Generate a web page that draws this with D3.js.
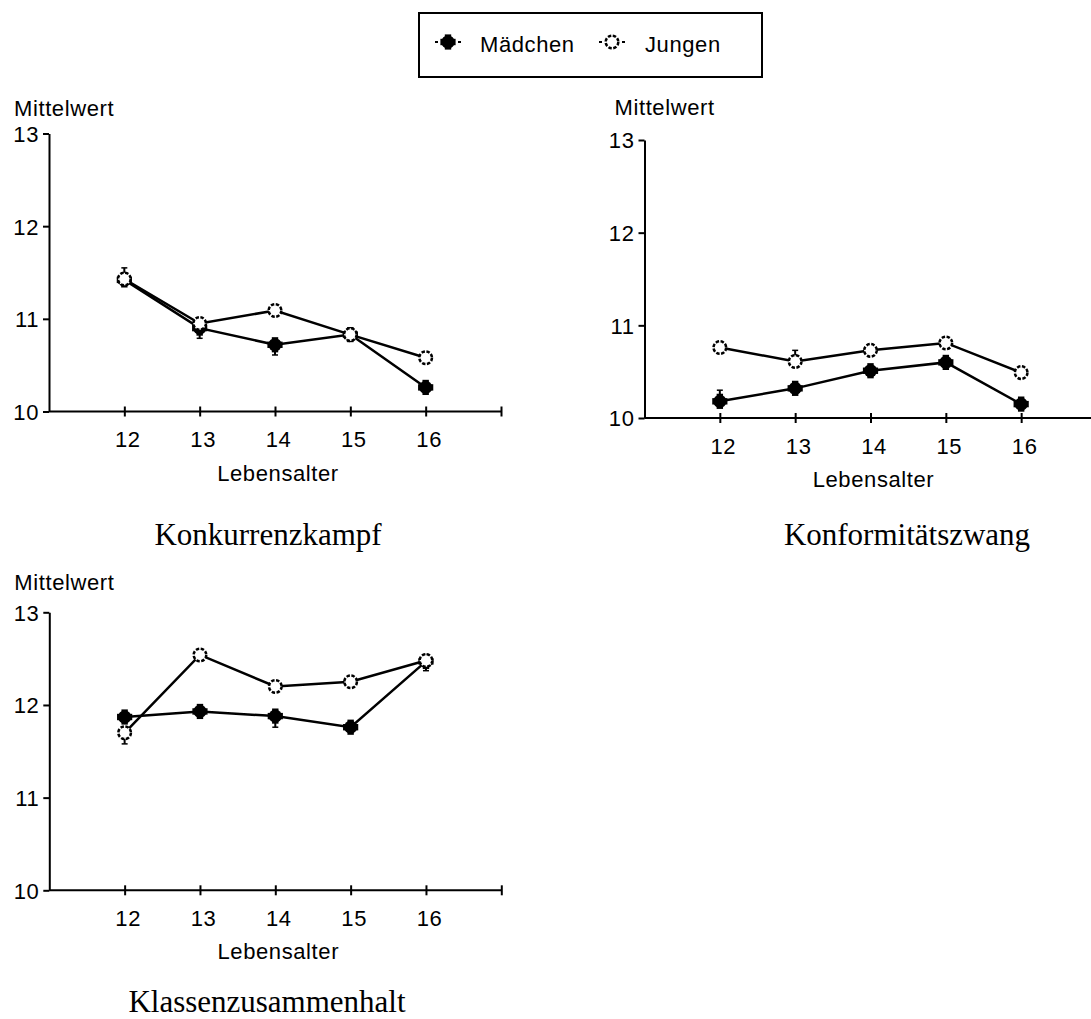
<!DOCTYPE html>
<html>
<head>
<meta charset="utf-8">
<script src="https://cdn.jsdelivr.net/npm/d3@7"></script>
<style>
  html, body { margin: 0; padding: 0; background: #fff; }
  svg { display: block; }
  .sans { font-family: "Liberation Sans", Arial, sans-serif; font-size: 22px; letter-spacing: 0.6px; fill: #000; }
  .serif { font-family: "Liberation Serif", "Times New Roman", serif; font-size: 31px; fill: #000; }
</style>
</head>
<body>
<div id="chart"></div>
<script>
const ages = [12, 13, 14, 15, 16];
const xTicks = [12, 13, 14, 15, 16, 17];
const yTicks = [10, 11, 12, 13];
const seriesNames = ["Mädchen", "Jungen"];
const panelTitles = ["Konkurrenzkampf", "Konformitätszwang", "Klassenzusammenhalt"];

const konkurrenzMaedchen = [11.42, 10.90, 10.72, 10.83, 10.26];
const konkurrenzJungen = [11.43, 10.95, 11.09, 10.83, 10.58];
const konformMaedchen = [10.18, 10.32, 10.51, 10.60, 10.15];
const konformJungen = [10.76, 10.61, 10.73, 10.81, 10.49];
const klassenMaedchen = [11.87, 11.93, 11.88, 11.76, 12.47];
const klassenJungen = [11.70, 12.54, 12.20, 12.25, 12.48];

// one-sided error bars (+ up, - down), only the visible ones
const konkurrenzMaedchenErr = [0, -0.11, -0.11, 0, 0];
const konkurrenzJungenErr = [0.12, 0, 0, 0, 0];
const konformMaedchenErr = [0.12, 0, 0, 0, 0];
const konformJungenErr = [0, 0.12, 0, 0, 0];
const klassenMaedchenErr = [0, 0, -0.12, 0, 0];
const klassenJungenErr = [-0.12, 0, 0, 0, -0.11];

const width = 1091, height = 1019;
const plotW = 452, plotH = 278;

const panels = [
  { title: panelTitles[0], left: 49, top: 133.5, titleX: 268, titleY: 545, labelX: -35, labelY: -18,
    girls: konkurrenzMaedchen, boys: konkurrenzJungen, girlsErr: konkurrenzMaedchenErr, boysErr: konkurrenzJungenErr },
  { title: panelTitles[1], left: 644.5, top: 140, titleX: 907, titleY: 545, labelX: -30, labelY: -25,
    girls: konformMaedchen, boys: konformJungen, girlsErr: konformMaedchenErr, boysErr: konformJungenErr },
  { title: panelTitles[2], left: 49.3, top: 612.3, titleX: 267, titleY: 1012, labelX: -35, labelY: -22,
    girls: klassenMaedchen, boys: klassenJungen, girlsErr: klassenMaedchenErr, boysErr: klassenJungenErr }
];

const svg = d3.select("#chart").append("svg")
  .attr("width", width)
  .attr("height", height);

const x = d3.scaleLinear().domain([11, 17]).range([0, plotW]);
const y = d3.scaleLinear().domain([10, 13]).range([plotH, 0]);

// filled marker: round blob with short cross arms
const drawFilled = (g, cx, cy) => {
  const m = g.append("g").attr("transform", `translate(${cx},${cy})`);
  m.append("circle").attr("r", 6.6).attr("fill", "#000");
  m.append("rect").attr("x", -7.6).attr("y", -3.2).attr("width", 15.2).attr("height", 6.4).attr("fill", "#000");
  m.append("rect").attr("x", -3.2).attr("y", -7.6).attr("width", 6.4).attr("height", 15.2).attr("fill", "#000");
};

const drawOpen = (g, cx, cy) => {
  g.append("circle")
    .attr("cx", cx).attr("cy", cy).attr("r", 6.3)
    .attr("fill", "#fff")
    .attr("stroke", "#000")
    .attr("stroke-width", 2.5)
    .attr("stroke-dasharray", "3.4,1.55");
};

const line = d3.line().x((d, i) => x(ages[i])).y(d => y(d));

panels.forEach(p => {
  const g = svg.append("g").attr("transform", `translate(${p.left},${p.top})`);

  // y axis
  const yAxis = g.append("g")
    .call(d3.axisLeft(y).tickValues(yTicks).tickSize(6).tickSizeOuter(0).tickPadding(4).tickFormat(d3.format("d")));
  yAxis.attr("font-size", null).attr("font-family", null);
  yAxis.select(".domain").attr("stroke-width", 2);
  yAxis.selectAll(".tick line").attr("stroke-width", 2);
  yAxis.selectAll(".tick text").attr("class", "sans").attr("dy", "0.36em");

  // x axis
  const xAxis = g.append("g")
    .attr("transform", `translate(0,${plotH})`)
    .call(d3.axisBottom(x).tickValues(xTicks).tickSizeOuter(0).tickSize(5).tickPadding(15)
      .tickFormat(d => d <= 16 ? d : ""));
  xAxis.attr("font-size", null).attr("font-family", null);
  xAxis.select(".domain").attr("stroke-width", 2).attr("d", `M0,0H${plotW}`);
  xAxis.selectAll(".tick line").attr("y1", -5).attr("y2", 5).attr("stroke-width", 2);
  xAxis.selectAll(".tick text").attr("class", "sans").attr("dx", 3);

  // axis labels
  g.append("text").attr("class", "sans")
    .attr("x", p.labelX).attr("y", p.labelY)
    .text("Mittelwert");
  g.append("text").attr("class", "sans")
    .attr("x", x(14) + 3).attr("y", plotH + 69)
    .attr("text-anchor", "middle")
    .text("Lebensalter");

  // lines
  [p.girls, p.boys].forEach(vals => {
    g.append("path")
      .attr("d", line(vals))
      .attr("fill", "none")
      .attr("stroke", "#000")
      .attr("stroke-width", 2.5);
  });

  // error bars
  [[p.girls, p.girlsErr], [p.boys, p.boysErr]].forEach(([vals, errs]) => {
    vals.forEach((v, i) => {
      if (!errs[i]) return;
      const cx = x(ages[i]);
      const y0 = y(v), y1 = y(v + errs[i]);
      g.append("line").attr("x1", cx).attr("x2", cx).attr("y1", y0).attr("y2", y1)
        .attr("stroke", "#000").attr("stroke-width", 2);
      g.append("line").attr("x1", cx - 3).attr("x2", cx + 3).attr("y1", y1).attr("y2", y1)
        .attr("stroke", "#000").attr("stroke-width", 1.5);
    });
  });

  // markers
  p.girls.forEach((v, i) => drawFilled(g, x(ages[i]), y(v)));
  p.boys.forEach((v, i) => drawOpen(g, x(ages[i]), y(v)));

  // panel title
  svg.append("text").attr("class", "serif")
    .attr("x", p.titleX).attr("y", p.titleY)
    .attr("text-anchor", "middle")
    .text(p.title);
});

// legend
const legend = svg.append("g");
legend.append("rect")
  .attr("x", 419).attr("y", 13)
  .attr("width", 343).attr("height", 64)
  .attr("fill", "#fff")
  .attr("stroke", "#000")
  .attr("stroke-width", 2);

const legendItems = [
  { name: seriesNames[0], mx: 448, tx: 480, draw: drawFilled },
  { name: seriesNames[1], mx: 612, tx: 645, draw: drawOpen }
];
legendItems.forEach(it => {
  legend.append("line")
    .attr("x1", it.mx - 13).attr("x2", it.mx + 13)
    .attr("y1", 42).attr("y2", 42)
    .attr("stroke", "#000").attr("stroke-width", 2)
    .attr("stroke-dasharray", "3,20");
  it.draw(legend, it.mx, 42);
  legend.append("text").attr("class", "sans")
    .attr("x", it.tx).attr("y", 52)
    .text(it.name);
});
</script>
</body>
</html>
